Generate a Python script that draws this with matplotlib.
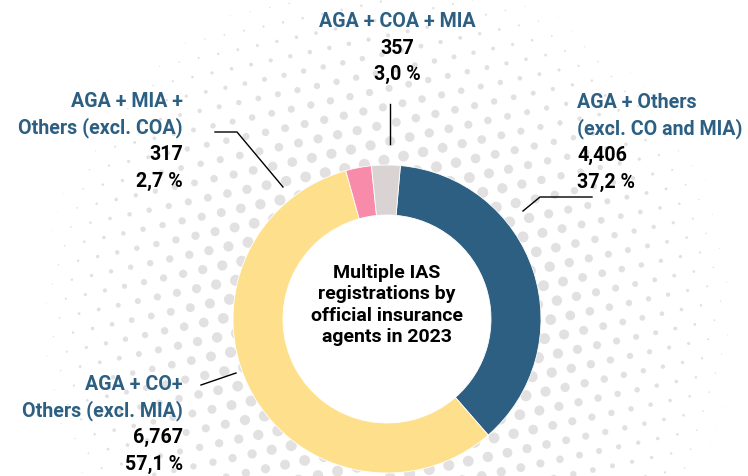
import numpy as np
import matplotlib
matplotlib.use("Agg")
import matplotlib.pyplot as plt

plt.rcParams['font.family'] = ['Roboto', 'DejaVu Sans']

# 数据
labels = ['AGA + Others\n(excl. CO and MIA)', 'AGA + CO+\nOthers (excl. MIA)',
          'AGA + MIA +\nOthers (excl. COA)', 'AGA + COA + MIA']
counts = ['4,406', '6,767', '317', '357']
shares = [37.2, 57.1, 2.7, 3.0]
colors = ['#2C5F82', '#FEE08C', '#F98BAA', '#D9D3D3']
center_title = 'Multiple IAS\nregistrations by\nofficial insurance\nagents in 2023'

W, H = 748, 477
BLUE = '#2C5F82'
FS = 14.1
WT = 'bold'

fig = plt.figure(figsize=(W / 100, H / 100), dpi=100)
ax = fig.add_axes([0, 0, 1, 1])

cx, cy = 387, H - 320  # 圆心（像素坐标，y 向上）

# 背景网点（半色调）
step = 20
g = np.arange(-30, 30)
gx, gy = np.meshgrid(g, g)
px = (gx + 0.5 * (gy % 2)) * step
py = gy * step * np.sqrt(3) / 2
ang = np.deg2rad(12)
rx = px * np.cos(ang) - py * np.sin(ang) + cx
ry = px * np.sin(ang) + py * np.cos(ang) + cy
dist = np.hypot(rx - cx, ry - cy)
diam = np.clip(11.5 * (1 - (dist - 150) / 210), 0, 11.5)
mask = (diam > 0.6) & (dist > 140)
ax.scatter(rx[mask], ry[mask], s=(diam[mask] * 0.72) ** 2, color='#E2E0E0',
           linewidths=0, zorder=0)

# 环形图
ax.pie(shares, colors=colors, startangle=85, counterclock=False,
       center=(cx, cy), radius=154, frame=True,
       wedgeprops=dict(width=50, edgecolor='white', linewidth=0.6))
ax.set_xlim(0, W)
ax.set_ylim(0, H)
ax.set_aspect('equal')
ax.axis('off')

ax.text(cx, H - 305, center_title, ha='center', va='center', fontsize=14,
        fontweight=WT, color='black', linespacing=1.25, zorder=5)


def label_block(x, y, i, ha):
    """标签：蓝色名称 + 黑色数量和百分比，y 为首行基线"""
    pct = f"{shares[i]:.1f}".replace('.', ',') + ' %'
    lines = [(t, BLUE) for t in labels[i].split('\n')]
    lines += [(counts[i], 'black'), (pct, 'black')]
    for k, (t, c) in enumerate(lines):
        ax.text(x, H - (y + 26.5 * k), t, ha=ha, va='baseline', fontsize=FS,
                fontweight=WT, color=c)


label_block(577, 108, 0, 'left')
label_block(183, 390, 1, 'right')
label_block(183, 107, 2, 'right')
label_block(397, 27, 3, 'center')

# 引线
lk = dict(color='black', linewidth=1, zorder=4)
ax.plot([390, 390], [H - 105, H - 145], **lk)
ax.plot([215, 237, 283], [H - 133, H - 133, H - 188], **lk)
ax.plot([592, 540, 523], [H - 198, H - 198, H - 212], **lk)
ax.plot([201, 236], [H - 386, H - 374], **lk)

fig.savefig('out.png', dpi=100)
